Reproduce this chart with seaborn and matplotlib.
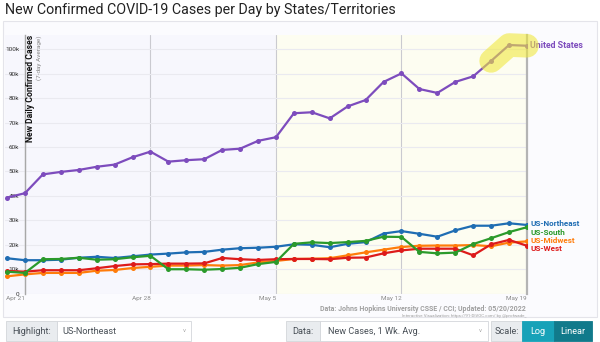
import numpy as np
import pandas as pd
import matplotlib
matplotlib.use("Agg")
import matplotlib.pyplot as plt
import matplotlib.dates as mdates
from matplotlib.patches import Rectangle
import seaborn as sns

# ---------------- data (7-day average new cases, thousands) ----------------
dates = pd.date_range("2022-04-20", "2022-05-19", freq="D")
us = [39.3, 41.1, 48.8, 49.8, 50.6, 51.9, 52.8, 55.8, 58.1, 54.0, 54.6, 55.0, 58.8, 59.3, 62.5,
      64.0, 73.8, 74.2, 71.7, 76.6, 79.2, 86.6, 90.1, 83.7, 82.1, 86.6, 88.9, 95.2, 101.7, 101.4]
northeast = [14.5, 13.7, 13.7, 13.9, 14.7, 15.1, 14.6, 15.3, 16.0, 16.4, 16.9, 17.1, 18.0, 18.6, 18.8,
             19.2, 20.2, 20.0, 19.0, 20.4, 21.1, 24.6, 25.6, 24.5, 23.3, 25.9, 27.8, 27.8, 28.8, 28.1]
south = [9.0, 8.5, 14.1, 14.2, 14.7, 13.9, 14.1, 14.9, 15.5, 10.0, 10.0, 9.8, 10.1, 10.6, 12.1,
         13.0, 20.4, 21.0, 20.7, 21.1, 21.6, 23.3, 23.2, 17.1, 16.5, 16.8, 20.3, 22.7, 25.2, 27.2]
midwest = [7.1, 7.9, 8.5, 8.5, 8.5, 9.4, 9.7, 10.5, 11.0, 11.5, 11.5, 11.7, 11.5, 11.7, 12.8,
           13.4, 14.2, 14.3, 14.5, 15.7, 16.9, 18.0, 19.1, 19.6, 19.7, 19.7, 19.9, 19.4, 20.9, 21.4]
west = [9.3, 9.0, 9.6, 9.6, 9.6, 10.4, 11.3, 12.0, 12.1, 12.3, 12.3, 12.4, 14.6, 14.1, 13.8,
        14.1, 14.2, 14.2, 14.1, 14.7, 14.8, 16.5, 17.7, 18.4, 18.4, 18.4, 15.7, 20.2, 22.0, 19.6]

regions = ["United States", "US-Northeast", "US-Midwest", "US-West", "US-South"]
series = {"United States": us, "US-Northeast": northeast, "US-South": south,
          "US-Midwest": midwest, "US-West": west}
colors = {"United States": "#7d4cbd", "US-Northeast": "#1f6db3", "US-South": "#2b9a2b",
          "US-Midwest": "#ff7c0a", "US-West": "#dd1b1b"}
label_dy = {"United States": 0, "US-Northeast": 1.3, "US-South": -3.6,
            "US-Midwest": 0.8, "US-West": -2.2}

tick_dates = pd.to_datetime(["2022-04-21", "2022-04-28", "2022-05-05", "2022-05-12", "2022-05-19"])
tick_labels = ["Apr 21", "Apr 28", "May 5", "May 12", "May 19"]
y_ticks = [0, 10, 20, 30, 40, 50, 60, 70, 80, 90, 100]
y_tick_labels = ["0", "10k", "20k", "30k", "40k", "50k", "60k", "70k", "80k", "90k", "100k"]

df = pd.DataFrame({
    "date": np.tile(dates, len(regions)),
    "region": np.repeat(regions, len(dates)),
    "cases": np.concatenate([np.array(series[r]) * 1000 for r in regions]),
})

# ---------------- figure ----------------
sns.set_style("white")
plt.rcParams["font.family"] = ["Roboto", "DejaVu Sans"]

W, H = 600, 342
fig = plt.figure(figsize=(W / 100, H / 100), dpi=100)
fig.patch.set_facecolor("white")


def box(x, y, w, h):
    return (x / W, 1 - (y + h) / H), w / W, h / H


# card behind chart
xy, w, h = box(3, 21, 594, 296)
fig.add_artist(Rectangle(xy, w, h, transform=fig.transFigure, facecolor="#fbfbfe",
                         edgecolor="#e4e4ea", lw=0.8, zorder=0))

fig.text(5 / W, 1 - 10 / H, "New Confirmed COVID-19 Cases per Day by States/Territories",
         fontsize=10.3, color="#222222", va="center", ha="left")

ax = fig.add_axes([5.2 / W, 1 - 293.7 / H, 521.8 / W, 259.2 / H])
ax.set_facecolor("#f7f7fd")
x0 = dates[0] - pd.Timedelta(hours=2.4)
ax.set_xlim(x0, dates[-1])
ax.set_ylim(0, 106000)
ax.axvspan(tick_dates[2], dates[-1], color="#fdfdf1", zorder=0)

sns.lineplot(data=df, x="date", y="cases", hue="region", hue_order=regions,
             palette=colors, marker="o", markersize=3.6, markeredgewidth=0,
             linewidth=1.6, legend=False, ax=ax, zorder=3)

# highlight of latest points
last = df[df["region"] == "United States"].tail(3)
ax.plot(last["date"], last["cases"], color="#f0e83a", alpha=0.58, lw=17,
        solid_capstyle="round", solid_joinstyle="round", zorder=6, clip_on=False)

# axes styling
ax.set_axisbelow(True)
ax.set_xticks(tick_dates)
ax.set_xticklabels(tick_labels)
for lbl in ax.get_xticklabels():
    lbl.set_ha("right")
ax.tick_params(axis="x", length=0, pad=1.5, labelsize=4.6, labelcolor="#8a8a8a")
ax.set_yticks(np.array(y_ticks) * 1000)
ax.set_yticklabels(y_tick_labels)
ax.tick_params(axis="y", direction="out", length=3, width=0.6, color="#777777",
               pad=1, labelsize=4.6, labelcolor="#333333")
ax.grid(axis="x", color="#cacad0", lw=0.8)
ax.grid(axis="y", color="#eaeaf0", lw=0.8)
for s in ["top", "bottom"]:
    ax.spines[s].set_visible(False)
ax.spines["left"].set_position(("data", mdates.date2num(tick_dates[0])))
ax.spines["left"].set_color("#a8a8a8")
ax.spines["left"].set_linewidth(1.0)
ax.spines["right"].set_color("#b4b4b4")
ax.spines["right"].set_linewidth(1.6)
ax.set_xlabel("")
ax.set_ylabel("")

ax.annotate("New Daily Confirmed Cases", xy=(tick_dates[0], 1), xycoords=("data", "axes fraction"),
            xytext=(4.3, -0.5), textcoords="offset points", rotation=90, ha="center", va="top",
            fontsize=6.2, fontweight="bold", color="#111111")
ax.annotate("(7-day Average)", xy=(tick_dates[0], 1), xycoords=("data", "axes fraction"),
            xytext=(10.3, -0.5), textcoords="offset points", rotation=90, ha="center", va="top",
            fontsize=4.6, color="#888888")

for r in regions:
    ax.annotate(r, xy=(dates[-1], series[r][-1] * 1000), xytext=(2.5, label_dy[r]),
                textcoords="offset points", ha="left", va="center",
                fontsize=6.3 if r == "United States" else 5.9,
                fontweight="bold", color=colors[r], annotation_clip=False)

# source note
fig.text(526 / W, 1 - 309 / H, "Data: Johns Hopkins University CSSE / CCI; Updated: 05/20/2022",
         fontsize=5.0, fontweight="bold", color="#a0a0a0", ha="right", va="center")
fig.text(526 / W, 1 - 316.5 / H, "Interactive Visualization: https://91-DIVOC.com/ by @profwade_",
         fontsize=3.2, color="#a0a0a0", ha="right", va="center")

# ---------------- controls ----------------
def rect(x, y, w, h, fc, ec="#d3d6da"):
    xy, ww, hh = box(x, y, w, h)
    fig.add_artist(Rectangle(xy, ww, hh, transform=fig.transFigure, facecolor=fc,
                             edgecolor=ec, lw=0.6, zorder=2))


cy = 331
rect(6, 321, 51, 20, "#e9ecef")
rect(57, 321, 134, 20, "white")
fig.text(31.5 / W, 1 - cy / H, "Highlight:", fontsize=6.6, color="#495057", ha="center", va="center")
fig.text(62 / W, 1 - cy / H, "US-Northeast", fontsize=6.6, color="#495057", ha="left", va="center")
fig.text(184 / W, 1 - cy / H, "v", fontsize=4.5, color="#aaaaaa", ha="center", va="center")

rect(286, 321, 34, 20, "#e9ecef")
rect(320, 321, 168, 20, "white")
fig.text(303 / W, 1 - cy / H, "Data:", fontsize=6.6, color="#495057", ha="center", va="center")
fig.text(328 / W, 1 - cy / H, "New Cases, 1 Wk. Avg.", fontsize=6.6, color="#495057", ha="left", va="center")
fig.text(480 / W, 1 - cy / H, "v", fontsize=4.5, color="#aaaaaa", ha="center", va="center")

rect(491, 321, 31, 20, "#e9ecef")
rect(522, 321, 32, 20, "#17a2b8", "#17a2b8")
rect(554, 321, 38, 20, "#117a8b", "#117a8b")
fig.text(506.5 / W, 1 - cy / H, "Scale:", fontsize=6.6, color="#495057", ha="center", va="center")
fig.text(538 / W, 1 - cy / H, "Log", fontsize=6.6, color="white", ha="center", va="center")
fig.text(573 / W, 1 - cy / H, "Linear", fontsize=6.6, color="white", ha="center", va="center")

fig.savefig("out.png", dpi=100, facecolor=fig.get_facecolor())
